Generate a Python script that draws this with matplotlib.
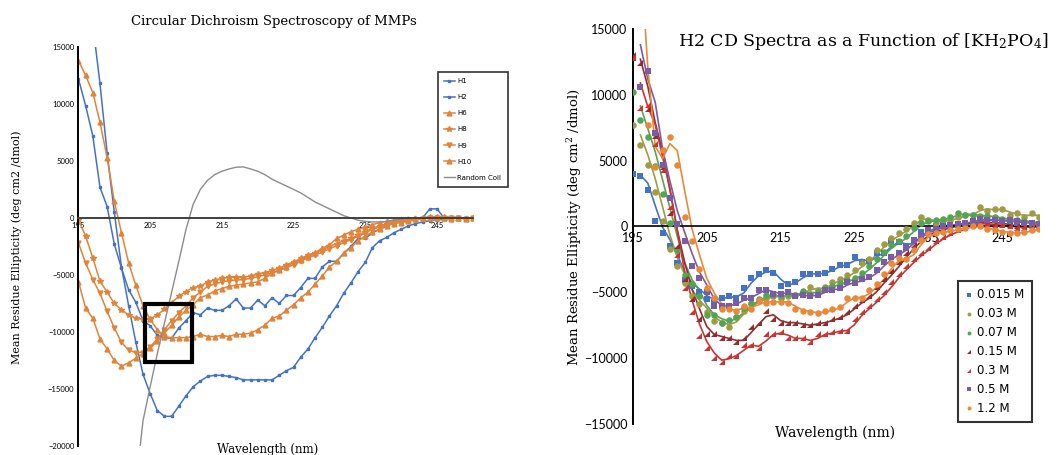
import numpy as np
import pandas as pd
import matplotlib
matplotlib.use("Agg")
import matplotlib.pyplot as plt
from matplotlib.patches import Rectangle

plt.rcParams['mathtext.fontset'] = 'dejavuserif'

wl = np.arange(195, 251)
nan = np.nan

# ---------------- left panel: CD of MMPs ----------------
h1 = [12200, 9850, 7200, 2700, 1000, -2300, -4400, -6300, -7400, -9000,
      -9450, -10300, -10500, -10550, -9650, -9000, -8300, -8500, -7900, -8100,
      -8100, -7700, -7100, -7900, -7900, -7200, -7700, -7000, -7500, -6800,
      -6800, -6100, -5300, -5300, -4300, -3800, -3800, -3100, -2500, -1800,
      -1800, -1300, -1000, -700, -200, -100, 0, 0, 0, 800,
      800, 0, 100, 0, 0, 0]
h2 = [nan, nan, 17000, 11800, 5700, 500, -4300, -7700, -10900, -13700,
      -15400, -16900, -17400, -17400, -16500, -15600, -14800, -14300, -13900, -13800,
      -13800, -13900, -14000, -14200, -14200, -14200, -14200, -14200, -13800, -13400,
      -13100, -12200, -11500, -10500, -9600, -8600, -7700, -6600, -5700, -4700,
      -3900, -2600, -2000, -1700, -1300, -1000, -700, -500, -350, -250,
      -150, -100, -50, 0, 0, 0]
h6 = [13800, 12500, 11000, 8400, 5300, 1450, -1300, -3950, -5900, -7700,
      -8900, -9800, -10400, -10500, -10500, -10500, -10400, -10200, -10400, -10400,
      -10300, -10400, -10200, -10200, -10100, -9800, -9400, -8800, -8600, -8100,
      -7600, -7000, -6500, -5800, -5100, -4300, -3800, -3100, -2600, -2000,
      -1600, -1200, -1000, -700, -500, -400, -300, -100, 0, 100,
      100, 0, -100, 0, -100, 0]
h8 = [-150, -1600, -3500, -5550, -6500, -7500, -8050, -8500, -8800, -8900,
      -8850, -8500, -8000, -7450, -6850, -6450, -6100, -6000, -5600, -5450,
      -5300, -5200, -5200, -5200, -5100, -4900, -4800, -4600, -4400, -4100,
      -3850, -3550, -3250, -3050, -2800, -2500, -2250, -2000, -1800, -1500,
      -1200, -900, -700, -500, -400, -300, -200, -100, 0, 50,
      100, 50, 0, 0, -50, 0]
h9 = [-2200, -3950, -5400, -6600, -8200, -9650, -10900, -11600, -11800, -11800,
      -11300, -10600, -9800, -9000, -8300, -7700, -7000, -6500, -6000, -5800,
      -5600, -5500, -5450, -5400, -5300, -5150, -5000, -4800, -4600, -4350,
      -4100, -3800, -3500, -3250, -3000, -2700, -2450, -2150, -1900, -1600,
      -1300, -1000, -800, -600, -450, -300, -200, -150, -50, 0,
      0, 0, 0, 0, -50, 0]
h10 = [-5600, -7900, -8800, -10600, -11500, -12500, -13000, -12700, -12300, -11900,
       -11400, -10800, -10100, -9400, -8700, -8100, -7600, -7000, -6750, -6400,
       -6200, -6000, -5900, -5800, -5700, -5600, -5300, -4850, -4550, -4300,
       -3900, -3700, -3400, -3050, -2650, -2350, -1800, -1500, -1200, -1000,
       -800, -600, -400, -300, -200, -100, -50, 0, 0, 0,
       0, 0, 0, 0, 0, 0]
coil = [nan, nan, nan, nan, nan, nan, nan, nan, -23500, -17800,
        -14800, -11900, -9200, -6500, -3800, -1000, 1200, 2500, 3300, 3800,
        4100, 4300, 4450, 4480, 4300, 4100, 3800, 3400, 3100, 2800,
        2500, 2200, 1800, 1400, 1100, 800, 500, 200, 0, -200,
        -300, -350, -350, -300, -200, -100, 0, 0, 0, 0,
        0, 0, 0, 0, 0, 0]

# ---------------- right panel: H2 vs [KH2PO4] ----------------
conc_labels = ['0.015 M', '0.03 M', '0.07 M', '0.15 M', '0.3 M', '0.5 M', '1.2 M']
c015 = [4000, 3800, 2800, 400, -500, -1500, -2800, -4100, -4500, -5000,
        -5500, -5600, -5400, -5300, -5400, -4700, -3900, -3600, -3300, -3500,
        -4500, -4400, -4200, -3600, -3600, -3600, -3500, -3200, -2900, -2900,
        -2300, -2700, -2600, -2000, -2000, -1100, -1200, -1500, -1100, -400,
        -300, 0, 100, 100, 200, 300, 300, 400, 500, 500,
        400, 400, 300, 300, 200, 100]
c03 = [7700, 6200, 4700, 2600, 400, -1700, -3000, -4300, -5300, -5900,
       -6500, -7200, -7300, -7600, -6900, -6400, -5900, -5600, -5400, -5300,
       -5300, -5300, -5200, -5000, -4600, -4800, -4600, -4200, -4000, -3700,
       -3300, -2800, -2500, -1800, -1300, -900, -500, -200, 300, 700,
       500, 300, 500, 500, 700, 900, 900, 1500, 1200, 1300,
       1300, 900, 1000, 700, 1000, 700]
c07 = [10200, 8100, 6800, 4600, 2500, 300, -1800, -3700, -4400, -5300,
       -6700, -6700, -7300, -7100, -6900, -6200, -5800, -5500, -5200, -5200,
       -5400, -5100, -5200, -4900, -5100, -5000, -4700, -4500, -4300, -4100,
       -3900, -3500, -3000, -2500, -1900, -1400, -1100, -700, -100, 300,
       400, 500, 600, 700, 1000, 900, 900, 800, 800, 700,
       600, 500, 500, 400, 300, 300]
c15 = [13000, 12400, 8900, 6900, 4500, 1000, -1500, -4000, -5500, -7000,
       -8200, -8200, -8500, -8500, -8800, -8500, -7600, -7300, -6400, -7000,
       -7300, -7300, -7300, -7500, -7500, -7300, -7300, -7000, -6900, -6500,
       -6000, -5600, -5300, -4600, -4000, -3400, -2700, -2000, -1400, -900,
       -500, -300, -200, 0, 100, 200, 300, 300, 300, 300,
       200, 100, 0, -100, 0, 0]
c3 = [12800, 9000, 9200, 6300, 4300, 1500, -2200, -4700, -6500, -8300,
      -9200, -10000, -10300, -9800, -9800, -9000, -9000, -9200, -8200, -8200,
      -8000, -8500, -8500, -8500, -8800, -8200, -8200, -8000, -7900, -7900,
      -7000, -6500, -6000, -5500, -5000, -4200, -3600, -3000, -2500, -2000,
      -1600, -1100, -800, -500, -300, -100, 200, 200, 200, 100,
      100, 0, -100, 0, -100, 100]
c5 = [17000, 10600, 11800, 7100, 4700, 2200, 200, -1100, -3000, -3900,
      -5000, -6000, -6000, -6000, -5800, -5400, -5400, -4800, -4800, -5100,
      -5100, -5000, -5300, -5200, -5300, -5200, -4800, -4800, -4700, -4200,
      -4300, -4000, -3800, -3300, -2700, -2300, -2000, -1600, -1000, -700,
      -300, -200, 0, 100, 200, 300, 400, 600, 500, 500,
      400, 500, 400, 300, 300, 200]
c12 = [25000, 16500, 7700, 4500, 5800, 6800, 4700, 700, -1100, -3200,
       -4700, -5400, -6300, -6300, -6400, -6000, -6300, -5600, -5800, -5700,
       -5700, -5800, -6300, -6400, -6500, -6600, -6400, -6300, -6100, -5400,
       -5400, -5400, -4800, -4400, -3600, -2800, -2400, -2500, -1800, -1000,
       -600, -500, -400, -300, -200, -100, 0, 0, -200, -300,
       -400, -500, -500, -400, -300, -200]

fig = plt.figure(figsize=(10.63, 4.55), dpi=100)

# left axes
ax1 = fig.add_axes([0.0738, 0.0198, 0.371, 0.877])
blue = '#4472C4'
orange = '#E0843A'
ax1.plot(wl, h1, color=blue, lw=1.1, marker='s', ms=1.8, label='H1')
ax1.plot(wl, h2, color=blue, lw=1.1, marker='s', ms=1.8, label='H2')
ax1.plot(wl, h6, color=orange, lw=1.1, marker='^', ms=3.5, label='H6')
ax1.plot(wl, h8, color=orange, lw=1.1, marker='*', ms=4, label='H8')
ax1.plot(wl, h9, color=orange, lw=1.1, marker='v', ms=3.5, label='H9')
ax1.plot(wl, h10, color=orange, lw=1.1, marker='^', ms=3.5, label='H10')
ax1.plot(wl, coil, color='#8C8C8C', lw=1.0, label='Random Coil')
ax1.add_patch(Rectangle((204.3, -12630), 6.5, 5080, fill=False, ec='black', lw=3, zorder=5))

ax1.set_xlim(195, 250)
ax1.set_ylim(-20000, 15000)
ax1.set_xticks(range(195, 250, 10))
ax1.set_yticks(range(-20000, 15001, 5000))
for s in ['top', 'right']:
    ax1.spines[s].set_visible(False)
ax1.spines['bottom'].set_position(('data', 0))
ax1.spines['bottom'].set_color('#404040')
ax1.spines['bottom'].set_linewidth(1.4)
ax1.spines['left'].set_linewidth(1.4)
ax1.tick_params(length=0, labelsize=5.5, pad=3)
for t in ax1.get_xticklabels() + ax1.get_yticklabels():
    t.set_fontfamily('Lato')
ax1.set_facecolor('none')

fig.text(0.258, 0.953, 'Circular Dichroism Spectroscopy of MMPs', family='DejaVu Serif',
         fontsize=9.5, ha='center', va='center')
fig.text(0.016, 0.457, 'Mean Residue Ellipticity (deg cm2 /dmol)', family='DejaVu Serif',
         fontsize=8, rotation=90, ha='center', va='center')
fig.text(0.252, 1 - 449 / 455, 'Wavelength (nm)', family='DejaVu Serif', fontsize=8.5,
         ha='center', va='center')
leg1 = ax1.legend(loc='upper left', bbox_to_anchor=(438 / 1063, 1 - 72 / 455),
                  bbox_transform=fig.transFigure, fontsize=5, frameon=True, fancybox=False,
                  handlelength=1.5, handletextpad=0.4, labelspacing=1.45, borderpad=0.9,
                  borderaxespad=0)
leg1.get_frame().set_edgecolor('black')
leg1.get_frame().set_linewidth(1.2)

# right axes
ax2 = fig.add_axes([0.5955, 0.0681, 0.382, 0.8682])
colors = ['#4472C4', '#A09B45', '#55A455', '#962B2B', '#CC3333', '#7B5BA6', '#E8893A']
tri = [(-1, -1), (1, -1), (1, 1)]
markers = ['s', 'o', 'o', tri, tri, 's', 'o']
series = [c015, c03, c07, c15, c3, c5, c12]
for vals, col, mk, lab in zip(series, colors, markers, conc_labels):
    ax2.scatter(wl, vals, s=22, color=col, marker=mk, lw=0, label=lab, zorder=3)
    trend = pd.Series(vals).rolling(2).mean()
    ax2.plot(wl, trend, color=col, lw=1.2, zorder=2)

ax2.set_xlim(195, 250)
ax2.set_ylim(-15000, 15000)
ax2.set_xticks(range(195, 250, 10))
ax2.set_yticks(range(-15000, 15001, 5000))
for s in ['top', 'right']:
    ax2.spines[s].set_visible(False)
ax2.spines['bottom'].set_position(('data', 0))
ax2.spines['bottom'].set_linewidth(1.2)
ax2.spines['left'].set_linewidth(1.4)
ax2.tick_params(length=0, labelsize=9, pad=4)
for t in ax2.get_xticklabels() + ax2.get_yticklabels():
    t.set_fontfamily('Lato')
ax2.set_facecolor('none')

fig.text(678 / 1063, 1 - 42 / 455, 'H2 CD Spectra as a Function of [KH$_2$PO$_4$]',
         family='DejaVu Serif', fontsize=12.5, ha='left', va='center')
fig.text(575 / 1063, 0.5, 'Mean Residue Ellipticity (deg cm$^2$ /dmol)', family='DejaVu Serif',
         fontsize=9.5, rotation=90, ha='center', va='center')
fig.text(835 / 1063, 1 - 433 / 455, 'Wavelength (nm)', family='DejaVu Serif', fontsize=10,
         ha='center', va='center')
leg2 = ax2.legend(loc='upper left', bbox_to_anchor=(958 / 1063, 1 - 281 / 455),
                  bbox_transform=fig.transFigure, fontsize=8.5, frameon=True, fancybox=False,
                  handlelength=0.7, handletextpad=0.35, labelspacing=0.5, borderpad=0.6,
                  markerscale=0.6, borderaxespad=0)
leg2.get_frame().set_edgecolor('black')
leg2.get_frame().set_linewidth(1.5)

fig.savefig('out.png', dpi=100)
